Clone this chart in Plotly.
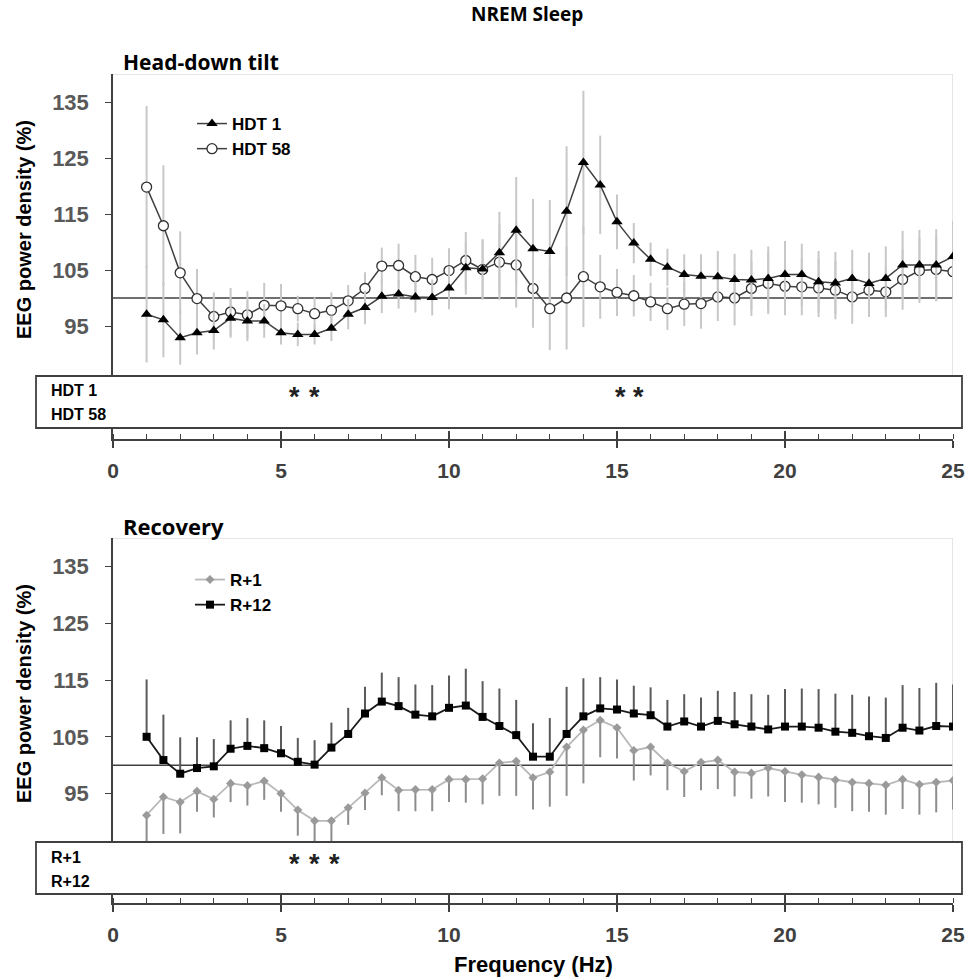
import plotly.graph_objects as go

# ---------------- data ----------------
freq = [1.0, 1.5, 2.0, 2.5, 3.0, 3.5, 4.0, 4.5, 5.0, 5.5, 6.0, 6.5, 7.0, 7.5, 8.0, 8.5,
        9.0, 9.5, 10.0, 10.5, 11.0, 11.5, 12.0, 12.5, 13.0, 13.5, 14.0, 14.5, 15.0, 15.5,
        16.0, 16.5, 17.0, 17.5, 18.0, 18.5, 19.0, 19.5, 20.0, 20.5, 21.0, 21.5, 22.0, 22.5,
        23.0, 23.5, 24.0, 24.5, 25.0]

hdt1 = [97.1, 96.1, 92.9, 93.8, 94.2, 96.4, 95.9, 95.9, 93.8, 93.5, 93.5, 94.6, 97.1, 98.3,
        100.3, 100.7, 100.2, 100.1, 101.8, 105.4, 105.2, 108.1, 112.1, 108.8, 108.3, 115.5,
        124.2, 120.2, 113.6, 109.8, 106.9, 105.5, 104.2, 103.9, 103.8, 103.3, 103.2, 103.5,
        104.2, 104.2, 102.9, 102.7, 103.5, 102.6, 103.5, 105.9, 105.9, 105.9, 107.4]
hdt1_err = [8.6, 6.7, 4.8, 3.9, 3.4, 3.5, 3.6, 3.0, 2.1, 2.1, 1.8, 2.3, 2.7, 3.0, 3.0, 2.6,
            2.8, 3.2, 3.8, 4.8, 5.2, 7.3, 9.5, 8.9, 9.2, 11.6, 12.8, 8.8, 4.9, 3.6, 3.0, 3.3,
            3.6, 3.9, 4.6, 4.6, 5.4, 5.7, 6.0, 5.5, 5.5, 5.5, 5.1, 5.5, 5.7, 6.1, 6.25, 6.4, 6.4]

hdt58 = [119.8, 112.9, 104.5, 99.9, 96.7, 97.5, 97.0, 98.7, 98.6, 98.1, 97.2, 97.8, 99.5, 101.7,
         105.7, 105.8, 103.8, 103.3, 104.9, 106.7, 105.1, 106.4, 105.9, 101.7, 98.1, 100.0,
         103.8, 102.0, 101.0, 100.4, 99.3, 98.1, 98.9, 99.0, 100.2, 100.0, 101.7, 102.6, 102.1,
         102.0, 101.8, 101.4, 100.2, 101.4, 101.1, 103.3, 104.9, 105.1, 104.7]
hdt58_err = [14.5, 10.8, 7.4, 5.3, 4.3, 4.3, 4.2, 4.0, 3.9, 2.3, 2.9, 3.2, 2.8, 2.9, 3.3, 3.9,
             3.9, 3.9, 4.0, 5.1, 5.4, 6.7, 7.6, 7.0, 7.4, 9.2, 9.0, 5.7, 4.2, 3.7, 3.4, 3.8,
             3.9, 4.5, 4.3, 4.9, 4.9, 5.5, 5.2, 5.1, 5.2, 5.2, 4.8, 4.8, 4.5, 5.4, 5.8, 5.7, 4.9]

r1 = [91.2, 94.4, 93.5, 95.4, 94.0, 96.8, 96.4, 97.2, 95.0, 92.1, 90.2, 90.2, 92.5, 95.1,
      97.8, 95.6, 95.7, 95.7, 97.5, 97.5, 97.6, 100.4, 100.7, 97.8, 98.8, 103.2, 106.2, 107.9,
      106.6, 102.6, 103.2, 100.4, 98.9, 100.5, 100.9, 98.8, 98.6, 99.5, 98.9, 98.3, 97.9, 97.4,
      97.0, 96.8, 96.5, 97.5, 96.6, 97.0, 97.3]
r1_err = [6.0, 6.5, 5.5, 3.6, 3.2, 3.3, 3.5, 3.3, 3.2, 4.5, 3.8, 3.8, 3.0, 3.0, 3.1, 3.7, 3.8,
          3.8, 4.0, 4.1, 4.5, 5.8, 6.1, 5.6, 6.1, 8.6, 9.4, 6.5, 5.4, 5.3, 5.0, 4.8, 4.5, 4.9,
          5.1, 4.3, 4.5, 5.0, 5.4, 4.9, 4.8, 4.9, 5.1, 5.0, 5.2, 5.2, 5.3, 5.3, 5.1]

r12 = [105.0, 100.9, 98.5, 99.5, 99.8, 102.9, 103.4, 103.0, 102.1, 100.6, 100.1, 103.1, 105.5,
       109.1, 111.2, 110.4, 108.9, 108.6, 110.1, 110.5, 108.5, 106.9, 105.3, 101.5, 101.5,
       105.5, 108.6, 110.0, 109.8, 109.1, 108.8, 106.8, 107.7, 106.8, 107.8, 107.2, 106.8,
       106.3, 106.8, 106.8, 106.6, 105.9, 105.7, 105.1, 104.8, 106.6, 106.1, 106.9, 106.8]
r12_err = [10.1, 8.0, 6.4, 5.4, 4.8, 5.0, 4.9, 4.9, 4.8, 4.2, 4.3, 4.4, 4.6, 4.7, 5.1, 5.1,
           5.3, 5.5, 5.7, 6.5, 6.3, 6.6, 6.2, 5.9, 6.8, 8.3, 6.7, 5.5, 5.3, 4.9, 4.9, 4.7, 4.8,
           5.1, 5.3, 5.7, 5.7, 6.1, 6.6, 6.7, 6.8, 6.7, 6.7, 7.0, 7.1, 7.5, 7.5, 7.6, 7.4]

zeros = [0] * len(freq)

x_ticks = [0, 5, 10, 15, 20, 25]
y_ticks = [95, 105, 115, 125, 135]
sig_hdt1 = [5.4, 6.0, 15.1, 15.65]
sig_r1 = [5.4, 6.0, 6.6]
row_top = ["HDT 1", "HDT 58"]
row_bot = ["R+1", "R+12"]

# ---------------- layout geometry ----------------
W, H = 978, 980
L, R, T, B = 113, 25, 74, 77
PH = H - T - B
def py(p):  # pixel y -> paper y
    return (H - B - p) / PH
def px(p):
    return (p - L) / (W - L - R)

top_dom = [py(439), 1.0]
bot_dom = [0.0, py(538)]
top_range = [140 - (439 - 74) / 5.6, 140]
bot_range = [140 - (903 - 538) / 5.68, 140]
def v_top(p):
    return 140 - (p - 74) / 5.6
def v_bot(p):
    return 140 - (p - 538) / 5.68

SANS = "Liberation Sans, Arial, sans-serif"
HEAD = "Open Sans, Noto Sans, sans-serif"
AX = "#404040"

fig = go.Figure()

# top panel
fig.add_trace(go.Scatter(
    x=freq, y=hdt58, name="HDT 58", mode="lines+markers", xaxis="x", yaxis="y", legend="legend",
    line=dict(color="#404040", width=1.5),
    marker=dict(symbol="circle", size=10, color="white", line=dict(color="#303030", width=1.3)),
    error_y=dict(type="data", array=hdt58_err, symmetric=True, color="#c8c8c8", thickness=2, width=0)))
fig.add_trace(go.Scatter(
    x=freq, y=hdt1, name="HDT 1", mode="lines+markers", xaxis="x", yaxis="y", legend="legend",
    line=dict(color="#404040", width=1.5),
    marker=dict(symbol="triangle-up", size=10, color="black"),
    error_y=dict(type="data", array=hdt1_err, symmetric=True, color="#c8c8c8", thickness=2, width=0)))

# bottom panel
fig.add_trace(go.Scatter(
    x=freq, y=r1, name="R+1", mode="lines+markers", xaxis="x2", yaxis="y2", legend="legend2",
    line=dict(color="#b8b8b8", width=1.8),
    marker=dict(symbol="diamond", size=7, color="#9a9a9a"),
    error_y=dict(type="data", array=zeros, arrayminus=r1_err, symmetric=False,
                 color="#8c8c8c", thickness=2, width=0)))
fig.add_trace(go.Scatter(
    x=freq, y=r12, name="R+12", mode="lines+markers", xaxis="x2", yaxis="y2", legend="legend2",
    line=dict(color="#1a1a1a", width=1.8),
    marker=dict(symbol="square", size=8, color="black"),
    error_y=dict(type="data", array=r12_err, arrayminus=zeros, symmetric=False,
                 color="#5a5a5a", thickness=2, width=0)))

# dummy traces for overlay tick axes
fig.add_trace(go.Scatter(x=[0], y=[None], xaxis="x3", yaxis="y", showlegend=False, hoverinfo="skip"))
fig.add_trace(go.Scatter(x=[0], y=[None], xaxis="x4", yaxis="y2", showlegend=False, hoverinfo="skip"))

xcommon = dict(range=[0, 25], showgrid=False, zeroline=False, showline=True, linecolor=AX,
               linewidth=2, ticks="outside", ticklen=7, tickwidth=1.5, tickcolor=AX,
               tickvals=x_ticks, ticklabelstandoff=5,
               tickfont=dict(family=SANS, size=21, color="#404040", weight="bold"),
               minor=dict(ticks="inside", ticklen=5, tickwidth=1.3, tickcolor=AX, dtick=1, tick0=0,
                          showgrid=False))
xover = dict(range=[0, 25], showgrid=False, zeroline=False, showline=False, ticks="inside",
             ticklen=8, tickwidth=1.5, tickcolor=AX, tickvals=x_ticks, showticklabels=False)
ycommon = dict(showgrid=False, zeroline=False, showline=True, linecolor=AX, linewidth=1.5,
               ticks="outside", ticklen=6, tickwidth=1.3, tickcolor=AX, tickvals=y_ticks,
               ticklabelstandoff=12,
               tickfont=dict(family=SANS, size=22, color="#595959", weight="bold"))

fig.update_layout(
    width=W, height=H, margin=dict(l=L, r=R, t=T, b=B),
    paper_bgcolor="white", plot_bgcolor="white", showlegend=True,
    xaxis=dict(domain=[0, 1], anchor="y", **xcommon),
    xaxis2=dict(domain=[0, 1], anchor="y2", **xcommon),
    xaxis3=dict(overlaying="x", anchor="y", **xover),
    xaxis4=dict(overlaying="x2", anchor="y2", **xover),
    yaxis=dict(domain=top_dom, range=top_range, anchor="x", **ycommon),
    yaxis2=dict(domain=bot_dom, range=bot_range, anchor="x2", **ycommon),
    legend=dict(x=px(192), y=py(106), xanchor="left", yanchor="top", bgcolor="rgba(0,0,0,0)",
                traceorder="reversed", font=dict(family=SANS, size=17, color="black", weight="bold"),
                itemwidth=30, tracegroupgap=0),
    legend2=dict(x=px(190), y=py(562), xanchor="left", yanchor="top", bgcolor="rgba(0,0,0,0)",
                 traceorder="normal", font=dict(family=SANS, size=17, color="black", weight="bold"),
                 itemwidth=30, tracegroupgap=0),
)

shapes = []
for xa, ya, vf, box_t, box_b in (("x", "y", v_top, 376, 428), ("x2", "y2", v_bot, 842, 894)):
    shapes.append(dict(type="line", xref=xa, yref=ya, x0=0, x1=25, y0=100, y1=100,
                       line=dict(color="#404040", width=1.5), layer="below"))
    shapes.append(dict(type="line", xref=xa, yref=ya, x0=0, x1=25, y0=140, y1=140,
                       line=dict(color="#dcdcdc", width=1.5), layer="below"))
    shapes.append(dict(type="line", xref=xa, yref=ya, x0=25, x1=25, y0=vf(box_t), y1=140,
                       line=dict(color="#dcdcdc", width=1.5), layer="below"))
    shapes.append(dict(type="rect", xref="paper", yref=ya, x0=px(36), x1=px(962),
                       y0=vf(box_b), y1=vf(box_t), fillcolor="white",
                       line=dict(color="#404040", width=1.8), layer="above"))
fig.update_layout(shapes=shapes)

ann = []
ann.append(dict(text="<b>NREM Sleep</b>", xref="paper", yref="paper", x=px(527), y=py(14),
                showarrow=False, font=dict(family=HEAD, size=19, color="black"),
                xanchor="center", yanchor="middle"))
ann.append(dict(text="<b>Head-down tilt</b>", xref="paper", yref="paper", x=px(121), y=py(62),
                showarrow=False, font=dict(family=HEAD, size=21, color="black"),
                xanchor="left", yanchor="middle"))
ann.append(dict(text="<b>Recovery</b>", xref="paper", yref="paper", x=px(121), y=py(526),
                showarrow=False, font=dict(family=HEAD, size=22, color="black"),
                xanchor="left", yanchor="middle"))
for cy in (230, 694):
    ann.append(dict(text="<b>EEG power density (%)</b>", xref="paper", yref="paper",
                    x=px(24), y=py(cy), textangle=-90, showarrow=False,
                    font=dict(family=SANS, size=20, color="black"),
                    xanchor="center", yanchor="middle"))
ann.append(dict(text="<b>Frequency (Hz)</b>", xref="paper", yref="paper", x=px(533), y=py(964),
                showarrow=False, font=dict(family=SANS, size=22, color="black"),
                xanchor="center", yanchor="middle"))
for labels, vf, ya, rows in ((row_top, v_top, "y", (390, 414)), (row_bot, v_bot, "y2", (857, 881))):
    for lab, ry in zip(labels, rows):
        ann.append(dict(text="<b>" + lab + "</b>", xref="paper", yref=ya,
                        x=px(49), y=vf(ry), showarrow=False, xanchor="left", yanchor="middle",
                        font=dict(family=SANS, size=16, color="black")))
for xs, xa, ya, vf, ry in ((sig_hdt1, "x", "y", v_top, 390), (sig_r1, "x2", "y2", v_bot, 857)):
    for xv in xs:
        ann.append(dict(text="<b>*</b>", xref=xa, yref=ya, x=xv, y=vf(ry),
                        showarrow=False, xanchor="center", yanchor="middle", yshift=-7,
                        font=dict(family=SANS, size=27, color="#202020")))
fig.update_layout(annotations=ann)

fig.write_html("out.html")
